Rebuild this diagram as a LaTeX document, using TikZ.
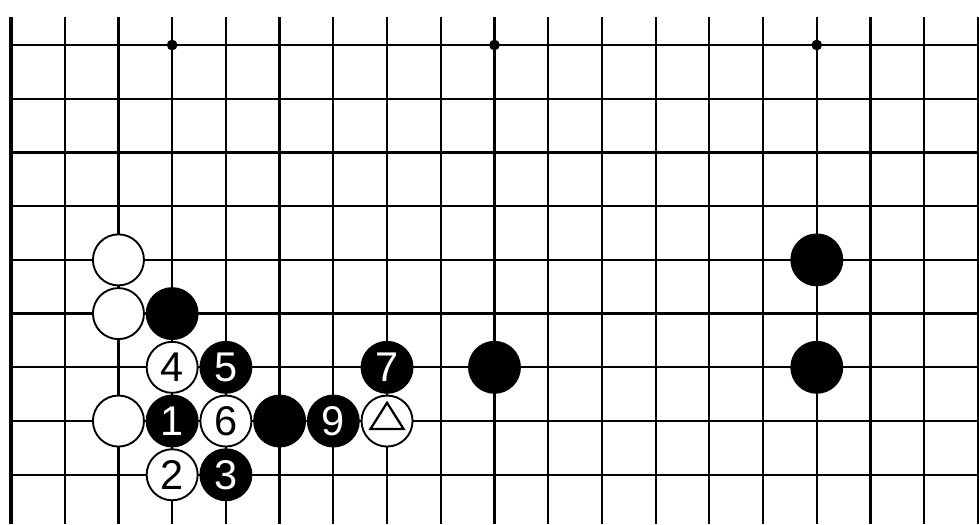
\documentclass[tikz,border=0pt]{standalone}
\usepackage{fontspec}
\setmainfont{Liberation Sans}
\tikzset{
  stone/.style={circle, minimum size=0.95cm, inner sep=0pt, line width=1pt,
    font=\fontsize{22}{22}\selectfont},
  bstone/.style={stone, draw=black, fill=black, text=white},
  wstone/.style={stone, draw=black, fill=white, text=black},
  hoshi/.style={fill=black},
}
\begin{document}
\begin{tikzpicture}[scale=1]
    \fill[white] (-0.205,-8.917) rectangle (18.02,0.838);
    \useasboundingbox (-0.205,-8.917) rectangle (18.02,0.838);
    % grid
    \foreach \r in {0,...,8}
        \draw[line width=1.2pt] (0,-\r) -- (18,-\r);
    \foreach \c in {0,...,18}
        \draw[line width=1.2pt] (\c,0.52) -- (\c,-8.917);
    \draw[line width=1.7pt] (0,0.52) -- (0,-8.917);
    \foreach \c in {3,9,15}
        \fill[hoshi] (\c,0) circle (0.1);
    % stones
    \node[wstone] (w1) at (2,-4) {};
    \node[wstone] (w2) at (2,-5) {};
    \node[bstone] (b1) at (3,-5) {};
    \node[wstone] (m4) at (3,-6) {4};
    \node[bstone] (m5) at (4,-6) {5};
    \node[wstone] (w3) at (2,-7) {};
    \node[bstone] (m1) at (3,-7) {1};
    \node[wstone] (m6) at (4,-7) {6};
    \node[bstone] (b2) at (5,-7) {};
    \node[bstone] (m9) at (6,-7) {9};
    \node[wstone] (tri) at (7,-7) {};
    \node[wstone] (m2) at (3,-8) {2};
    \node[bstone] (m3) at (4,-8) {3};
    \node[bstone] (m7) at (7,-6) {7};
    \node[bstone] (b3) at (9,-6) {};
    \node[bstone] (b4) at (15,-4) {};
    \node[bstone] (b5) at (15,-6) {};
    \draw[line width=1.2pt, line join=miter] ([shift={(0,0.34)}]tri.center)
        -- ([shift={(-0.31,-0.15)}]tri.center)
        -- ([shift={(0.31,-0.15)}]tri.center) -- cycle;
\end{tikzpicture}
\end{document}
